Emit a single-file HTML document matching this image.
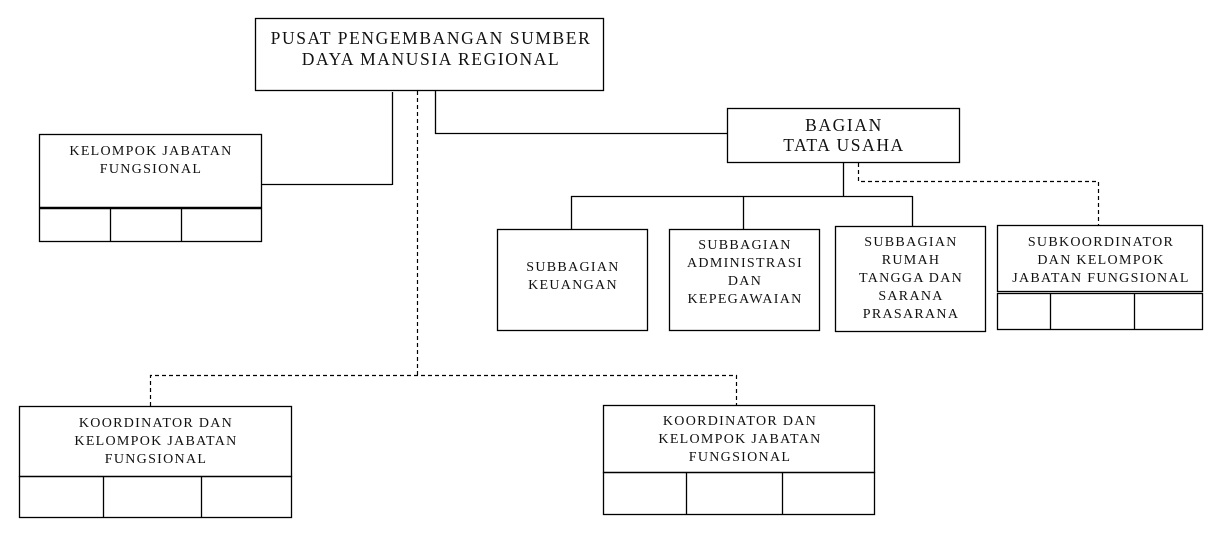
<!DOCTYPE html>
<html><head><meta charset="utf-8"><style>
html,body{margin:0;padding:0;background:#fff;}
svg{display:block;}
text{font-family:"Liberation Serif",serif;fill:#111;text-anchor:middle;}
.b{font-size:17.5px;letter-spacing:1.6px;}
.s{font-size:14px;letter-spacing:1.3px;}
</style></head><body>
<svg width="1222" height="545" viewBox="0 0 1222 545" xmlns="http://www.w3.org/2000/svg">
<g fill="none" stroke="#000" stroke-width="1.3">
<rect x="255.5" y="18.5" width="348" height="72"/>
<rect x="727.5" y="108.5" width="232" height="54"/>
<rect x="39.5" y="134.5" width="222" height="73"/>
<rect x="39.5" y="208.5" width="222" height="33"/>
<line x1="39" y1="208" x2="262" y2="208" stroke-width="2.2"/>
<line x1="110.5" y1="208" x2="110.5" y2="241"/>
<line x1="181.5" y1="208" x2="181.5" y2="241"/>
<rect x="497.5" y="229.5" width="150" height="101"/>
<rect x="669.5" y="229.5" width="150" height="101"/>
<rect x="835.5" y="226.5" width="150" height="105"/>
<rect x="997.5" y="225.5" width="205" height="66"/>
<rect x="997.5" y="293.5" width="205" height="36"/>
<line x1="1050.5" y1="293" x2="1050.5" y2="330"/>
<line x1="1134.5" y1="293" x2="1134.5" y2="330"/>
<rect x="19.5" y="406.5" width="272" height="70"/>
<rect x="19.5" y="476.5" width="272" height="41"/>
<line x1="103.5" y1="476" x2="103.5" y2="518"/>
<line x1="201.5" y1="476" x2="201.5" y2="517"/>
<rect x="603.5" y="405.5" width="271" height="67"/>
<rect x="603.5" y="472.5" width="271" height="42"/>
<line x1="686.5" y1="472" x2="686.5" y2="514"/>
<line x1="782.5" y1="472" x2="782.5" y2="514"/>
<polyline points="392.5,92 392.5,185"/>
<line x1="262" y1="184.5" x2="392" y2="184.5"/>
<polyline points="435.5,90 435.5,133.5 727,133.5"/>
<line x1="843.5" y1="162" x2="843.5" y2="196.5"/>
<line x1="571" y1="196.5" x2="912.5" y2="196.5"/>
<line x1="571.5" y1="196" x2="571.5" y2="229"/>
<line x1="743.5" y1="196" x2="743.5" y2="229"/>
<line x1="912.5" y1="196" x2="912.5" y2="226"/>
</g>
<g fill="none" stroke="#000" stroke-width="1.2" stroke-dasharray="4,3">
<line x1="417.5" y1="91" x2="417.5" y2="375.5"/>
<polyline points="150.5,406 150.5,375.5 736.5,375.5 736.5,405"/>
<polyline points="858.5,163 858.5,181.5 1098.5,181.5 1098.5,225"/>
</g>
<text class="b" x="431" y="44">PUSAT PENGEMBANGAN SUMBER</text>
<text class="b" x="431" y="65">DAYA MANUSIA REGIONAL</text>
<text class="b" x="844" y="131">BAGIAN</text>
<text class="b" x="844" y="151">TATA USAHA</text>
<text class="s" x="151" y="155">KELOMPOK JABATAN</text>
<text class="s" x="151" y="173">FUNGSIONAL</text>
<text class="s" x="573" y="271">SUBBAGIAN</text>
<text class="s" x="573" y="289">KEUANGAN</text>
<text class="s" x="745" y="249">SUBBAGIAN</text>
<text class="s" x="745" y="267">ADMINISTRASI</text>
<text class="s" x="745" y="285">DAN</text>
<text class="s" x="745" y="303">KEPEGAWAIAN</text>
<text class="s" x="911" y="246">SUBBAGIAN</text>
<text class="s" x="911" y="264">RUMAH</text>
<text class="s" x="911" y="282">TANGGA DAN</text>
<text class="s" x="911" y="300">SARANA</text>
<text class="s" x="911" y="318">PRASARANA</text>
<text class="s" x="1101" y="246">SUBKOORDINATOR</text>
<text class="s" x="1101" y="264">DAN KELOMPOK</text>
<text class="s" x="1101" y="282">JABATAN FUNGSIONAL</text>
<text class="s" x="156" y="427">KOORDINATOR DAN</text>
<text class="s" x="156" y="445">KELOMPOK JABATAN</text>
<text class="s" x="156" y="463">FUNGSIONAL</text>
<text class="s" x="740" y="425">KOORDINATOR DAN</text>
<text class="s" x="740" y="443">KELOMPOK JABATAN</text>
<text class="s" x="740" y="461">FUNGSIONAL</text>
</svg>
</body></html>
